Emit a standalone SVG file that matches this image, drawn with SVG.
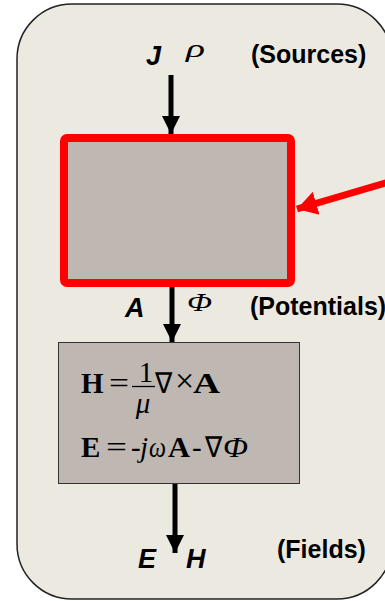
<svg xmlns="http://www.w3.org/2000/svg" width="385" height="601" viewBox="0 0 385 601">
<defs>
<style>
.lbl{font-family:"Liberation Sans",Arial,sans-serif;font-weight:bold;font-style:italic;font-size:27px;fill:#000}
.grk{font-family:"Liberation Serif","Times New Roman",serif;font-style:italic;font-size:26px;fill:#000}
.tag{font-family:"Liberation Sans",Arial,sans-serif;font-weight:bold;font-size:25px;fill:#000}
.eq{font-family:"Liberation Serif","Times New Roman",serif;font-size:29px;fill:#000}
.b{font-weight:bold}
.i{font-style:italic}
.conn{stroke:#000;stroke-width:5;fill:none}
</style>
<marker id="ah" markerUnits="userSpaceOnUse" markerWidth="20" markerHeight="20" refX="18" refY="10" orient="auto" viewBox="0 0 20 20">
<path d="M0,1 L18,10 L0,19 Z" fill="#000"/>
</marker>
<marker id="ahr" markerUnits="userSpaceOnUse" markerWidth="22" markerHeight="26" refX="20" refY="13" orient="auto" viewBox="0 0 22 26">
<path d="M0,1 L20,13 L0,25 Z" fill="#f00"/>
</marker>
</defs>
<rect x="0" y="0" width="385" height="601" fill="#fff"/>
<g id="frame">
<rect x="17" y="4" width="375" height="595" rx="55" ry="55" fill="#ECE9E0" stroke="#222" stroke-width="1.5"/>
</g>
<g id="potential-box">
<rect x="64" y="138" width="227" height="145" rx="3" fill="#BFB8B2" stroke="#f00" stroke-width="8"/>
</g>
<g id="field-box">
<rect x="58.5" y="342.5" width="241" height="141" fill="#BFB8B2" stroke="#333" stroke-width="1"/>
<text class="eq"><tspan class="b" x="81" y="393">H</tspan><tspan x="109" y="393" textLength="20" lengthAdjust="spacingAndGlyphs">=</tspan></text>
<text class="eq" x="146" y="382" text-anchor="middle" font-size="31">1</text>
<line x1="132" y1="386.5" x2="155" y2="386.5" stroke="#000" stroke-width="1.3"/>
<text class="eq i" x="143" y="413" text-anchor="middle">μ</text>
<text class="eq"><tspan x="155" y="393" textLength="17" lengthAdjust="spacingAndGlyphs">∇</tspan><tspan x="175" y="392" font-size="34">×</tspan><tspan class="b" x="193" y="393" textLength="27" lengthAdjust="spacingAndGlyphs">A</tspan></text>
<text class="eq"><tspan class="b" x="81" y="457">E</tspan><tspan x="106" y="457" textLength="21" lengthAdjust="spacingAndGlyphs">=</tspan><tspan x="131" y="457">-</tspan><tspan class="i" x="140" y="457">j</tspan><tspan class="i" x="149" y="457" textLength="17" lengthAdjust="spacingAndGlyphs">ω</tspan><tspan class="b" x="168" y="457" textLength="22" lengthAdjust="spacingAndGlyphs">A</tspan><tspan x="192" y="457">-</tspan><tspan x="205" y="457" textLength="17" lengthAdjust="spacingAndGlyphs">∇</tspan><tspan class="i" x="223" y="457" textLength="25" lengthAdjust="spacingAndGlyphs">Φ</tspan></text>
</g>
<g id="sources-label">
<text class="lbl" x="146" y="65">J</text>
<text class="grk" x="186" y="57" font-size="28" textLength="19" lengthAdjust="spacingAndGlyphs">ρ</text>
<text class="tag" x="251" y="63">(Sources)</text>
</g>
<g id="potentials-label">
<text class="lbl" x="125" y="317">A</text>
<text class="grk" x="187" y="311" textLength="25" lengthAdjust="spacingAndGlyphs">Φ</text>
<text class="tag" x="250" y="315">(Potentials)</text>
</g>
<g id="fields-label">
<text class="lbl" x="138" y="568" font-size="30">E</text>
<text class="lbl" x="186" y="568" font-size="30">H</text>
<text class="tag" x="277" y="558">(Fields)</text>
</g>
<g id="connectors">
<line class="conn" x1="171" y1="75" x2="171" y2="134" marker-end="url(#ah)"/>
<line class="conn" x1="172" y1="287" x2="172" y2="342" marker-end="url(#ah)"/>
<line class="conn" x1="175" y1="484" x2="175" y2="553" marker-end="url(#ah)"/>
<line x1="392" y1="181" x2="297" y2="209" stroke="#f00" stroke-width="7" marker-end="url(#ahr)"/>
</g>
</svg>
